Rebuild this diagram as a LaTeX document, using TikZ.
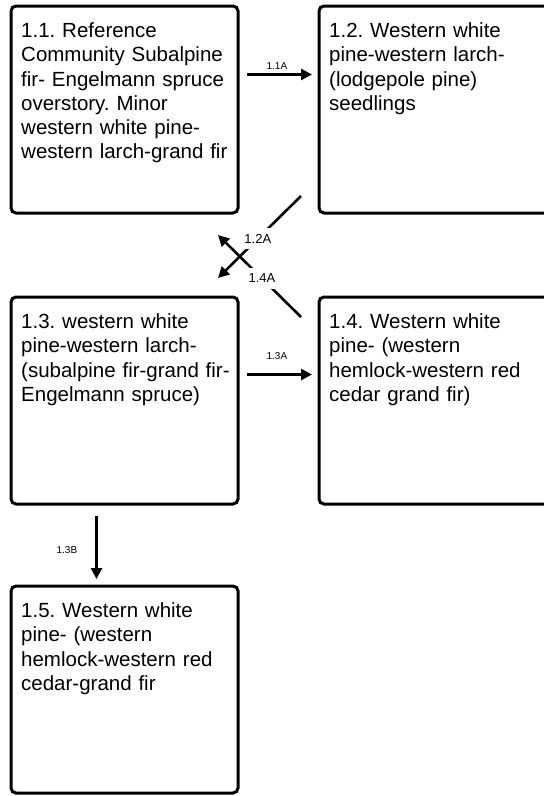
\documentclass[tikz,border=0pt]{standalone}
\usepackage{fontspec}
\setmainfont{Liberation Sans}
\usetikzlibrary{arrows.meta,calc}
\frenchspacing
\begin{document}
\begin{tikzpicture}[x=1pt,y=-1pt,
  box/.style={draw, line width=3pt, rounded corners=5pt, minimum width=227pt, minimum height=207pt, inner sep=0pt, anchor=north west},
  widebox/.style={box, minimum width=240pt},
  txt/.style={font=\fontsize{20.5}{24.2}\selectfont, text width=215pt, align=left, anchor=base west, inner sep=0pt},
  conn/.style={line width=2.6pt, -{Triangle[length=11pt,width=11pt]}},
  lab/.style={font=\fontsize{10}{12}\selectfont, inner sep=1pt},
  wlab/.style={font=\fontsize{13}{15}\selectfont, fill=white, inner xsep=0.5pt, inner ysep=6pt}
]
\useasboundingbox (0,0) rectangle (544,796);
\clip (0,0) rectangle (544,796);

\node[box] (b11) at (9.5,4.5) {};
\node[widebox] (b12) at (317.5,4.5) {};
\node[box] (b13) at (9.5,295.5) {};
\node[widebox] (b14) at (317.5,295.5) {};
\node[box] (b15) at (9.5,584.5) {};

\node[txt] (t11) at ($(b11.north west)+(11.5,33.2)$) {1.1. Reference\\Community Subalpine\\fir- Engelmann spruce\\overstory. Minor\\western white pine-\\western larch-grand fir};
\node[txt] (t12) at ($(b12.north west)+(11.5,33.2)$) {1.2. Western white\\pine-western larch-\\(lodgepole pine)\\seedlings};
\node[txt] (t13) at ($(b13.north west)+(11.5,33.2)$) {1.3. western white\\pine-western larch-\\(subalpine fir-grand fir-\\Engelmann spruce)};
\node[txt] (t14) at ($(b14.north west)+(11.5,33.2)$) {1.4. Western white\\pine- (western\\hemlock-western red\\cedar grand fir)};
\node[txt] (t15) at ($(b15.north west)+(11.5,33.2)$) {1.5. Western white\\pine- (western\\hemlock-western red\\cedar-grand fir};

\draw[conn] ($(b11.east)+(7.5,-35)$) -- ($(b12.west)+(-5.5,-35)$)
  node[lab, above=2.4pt, pos=0.46] (l11) {1.1A};
\draw[conn] ($(b13.east)+(7.5,-26)$) -- ($(b14.west)+(-5.5,-26)$)
  node[lab, above=12.4pt, pos=0.46] (l13) {1.3A};
\draw[conn] ($(b13.south)+(-28,10.5)$) -- ($(b15.north)+(-28,-5.5)$)
  node[lab, left=17pt, pos=0.545] (l13b) {1.3B};
\draw[conn] ($(b12.south west)+(-16.5,-18.5)$) -- ($(b13.north east)+(-21.5,-17.5)$)
  node[wlab, pos=0.52] (l12) {1.2A};
\draw[conn] ($(b14.north west)+(-16.5,21.5)$) -- ($(b11.south east)+(-21.5,20.5)$)
  node[wlab, pos=0.47] (l14) {1.4A};
\end{tikzpicture}
\end{document}
